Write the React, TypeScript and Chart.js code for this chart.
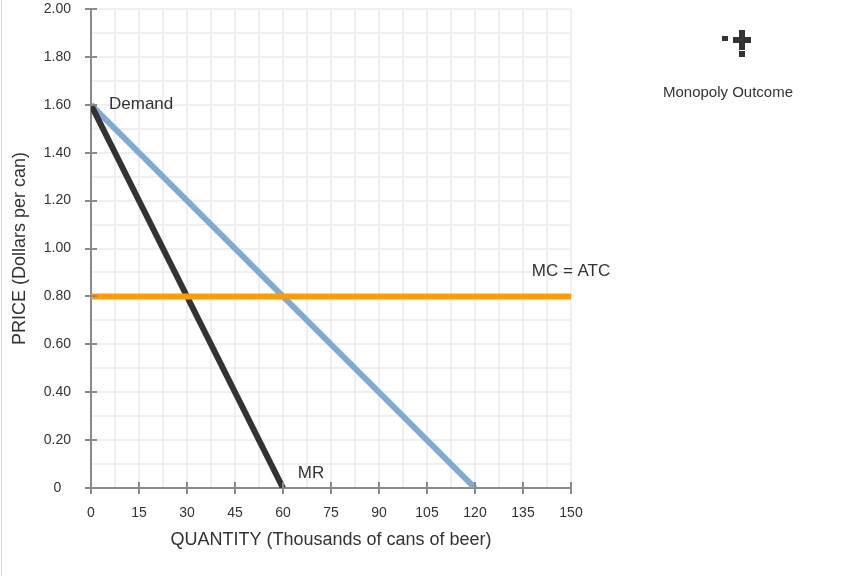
import React, { useEffect, useRef } from "react";
import { Chart, registerables } from "chart.js";

Chart.register(...registerables);

// Data
const demandQ = [0, 120];
const demandP = [1.6, 0];
const mrQ = [0, 60];
const mrP = [1.6, 0];
const mcQ = [0, 150];
const mcP = [0.8, 0.8];

const xTickValues = [0, 15, 30, 45, 60, 75, 90, 105, 120, 135, 150];
const yTickValues = [0, 0.2, 0.4, 0.6, 0.8, 1.0, 1.2, 1.4, 1.6, 1.8, 2.0];

const xTitle = "QUANTITY (Thousands of cans of beer)";
const yTitle = "PRICE (Dollars per can)";
const demandLabel = "Demand";
const mrLabel = "MR";
const mcLabel = "MC = ATC";
const legendLabel = "Monopoly Outcome";

const FONT = "'Liberation Sans', Arial, Helvetica, sans-serif";
const TEXT = "#333333";
const AXIS = "#8a8a8a";

const toPts = (xs: number[], ys: number[]) => xs.map((x, i) => ({ x, y: ys[i] }));

const overlayPlugin = {
  id: "overlay",
  afterDatasetsDraw(chart: any) {
    const ctx = chart.ctx;
    const xs = chart.scales.x;
    const ys = chart.scales.y;
    ctx.save();
    // tick marks crossing the axes
    ctx.strokeStyle = AXIS;
    ctx.lineWidth = 2;
    const x0 = xs.getPixelForValue(0);
    const y0 = ys.getPixelForValue(0);
    yTickValues.forEach((v) => {
      const py = Math.round(ys.getPixelForValue(v));
      ctx.beginPath();
      ctx.moveTo(x0 - 6, py);
      ctx.lineTo(x0 + 6, py);
      ctx.stroke();
    });
    xTickValues.forEach((v) => {
      const px = Math.round(xs.getPixelForValue(v));
      ctx.beginPath();
      ctx.moveTo(px, y0 - 6);
      ctx.lineTo(px, y0 + 6);
      ctx.stroke();
    });
    // curve labels
    ctx.fillStyle = TEXT;
    ctx.font = `17px ${FONT}`;
    ctx.textBaseline = "middle";
    ctx.textAlign = "left";
    ctx.fillText(demandLabel, xs.getPixelForValue(demandQ[0]) + 18, ys.getPixelForValue(demandP[0]));
    ctx.textAlign = "center";
    ctx.fillText(mcLabel, xs.getPixelForValue(mcQ[1]), ys.getPixelForValue(mcP[1]) - 25);
    ctx.fillText(mrLabel, xs.getPixelForValue(mrQ[1]) + 28, ys.getPixelForValue(mrP[1]) - 15);
    // legend
    ctx.font = `15px ${FONT}`;
    ctx.fillText(legendLabel, 728, 93);
    ctx.fillStyle = "#333333";
    ctx.fillRect(733, 37, 18, 6);
    ctx.fillRect(739, 30, 6, 20);
    ctx.fillRect(722, 36, 6, 5);
    ctx.fillRect(739, 51, 6, 6);
    ctx.restore();
  },
};

export default function App() {
  const ref = useRef<HTMLCanvasElement | null>(null);
  useEffect(() => {
    document.body.style.margin = "0";
    const canvas = ref.current!;
    const chart = new Chart(canvas, {
      type: "line",
      data: {
        datasets: [
          {
            label: "MC = ATC",
            data: toPts(mcQ, mcP),
            borderColor: "#ff9c00",
            borderWidth: 6,
            pointRadius: 0,
            order: 0,
          },
          {
            label: "MR",
            data: toPts(mrQ, mrP),
            borderColor: "#333333",
            borderWidth: 6,
            pointRadius: 0,
            order: 1,
          },
          {
            label: "Demand",
            data: toPts(demandQ, demandP),
            borderColor: "#80aad6",
            borderWidth: 6,
            pointRadius: 0,
            order: 2,
          },
        ],
      },
      options: {
        animation: false,
        responsive: false,
        devicePixelRatio: 1,
        layout: { padding: { top: 9, right: 293, left: 0, bottom: 0 } },
        plugins: { legend: { display: false }, tooltip: { enabled: false } },
        scales: {
          x: {
            type: "linear",
            min: 0,
            max: 150,
            afterFit: (s: any) => {
              s.height = 88;
              s.paddingLeft = 0;
              s.paddingRight = 0;
            },
            afterBuildTicks: (s: any) => {
              const t = [];
              for (let i = 0; i <= 20; i++) t.push({ value: i * 7.5 });
              s.ticks = t;
            },
            grid: { color: "#efefef", lineWidth: 2, drawTicks: false },
            border: { color: AXIS, width: 2 },
            ticks: {
              autoSkip: false,
              maxRotation: 0,
              padding: 17,
              color: TEXT,
              font: { family: FONT, size: 14 },
              callback: (v: any) => (Math.abs(v % 15) < 1e-6 ? String(v) : ""),
            },
            title: {
              display: true,
              text: xTitle,
              color: TEXT,
              font: { family: FONT, size: 18 },
              padding: { top: 0, bottom: 25 },
            },
          },
          y: {
            type: "linear",
            min: 0,
            max: 2,
            afterFit: (s: any) => {
              s.width = 91;
              s.paddingTop = 0;
              s.paddingBottom = 0;
            },
            afterBuildTicks: (s: any) => {
              const t = [];
              for (let i = 0; i <= 20; i++) t.push({ value: i / 10 });
              s.ticks = t;
            },
            grid: { color: "#efefef", lineWidth: 2, drawTicks: false },
            border: { color: AXIS, width: 2 },
            ticks: {
              autoSkip: false,
              padding: 20,
              crossAlign: "center",
              color: TEXT,
              font: { family: FONT, size: 14 },
              callback: (v: any) => {
                const n = Math.round(v * 10);
                if (n % 2 !== 0) return "";
                return n === 0 ? "0" : (n / 10).toFixed(2);
              },
            },
            title: {
              display: true,
              text: yTitle,
              color: TEXT,
              font: { family: FONT, size: 18 },
              padding: { top: 9, bottom: 0 },
            },
          },
        },
      },
      plugins: [overlayPlugin],
    } as any);
    return () => chart.destroy();
  }, []);
  return (
    <div style={{ position: "relative", width: 864, height: 576, background: "#fff" }}>
      <canvas ref={ref} width={864} height={576} style={{ display: "block", width: 864, height: 576 }} />
      <div style={{ position: "absolute", left: 1, top: 0, width: 1, height: 576, background: "#d8d8d8" }} />
    </div>
  );
}
